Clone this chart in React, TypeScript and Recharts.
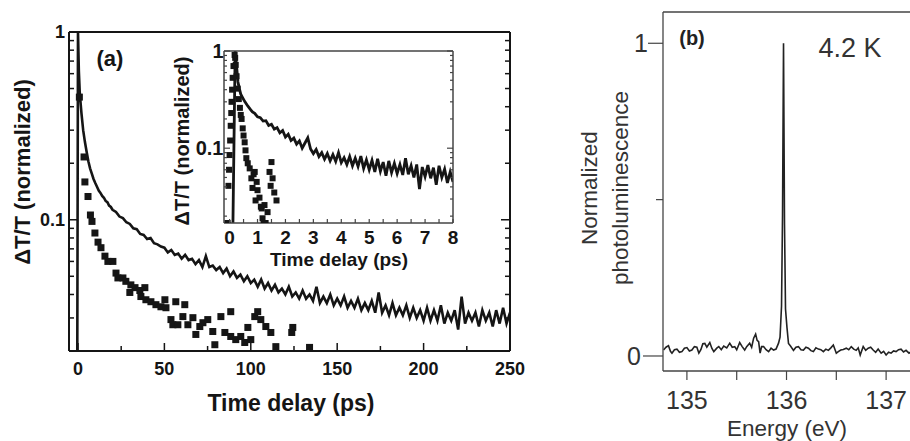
import React from 'react';
import { ComposedChart, LineChart, Line, Scatter, XAxis, YAxis } from 'recharts';

// ---- panel (a): main decay, [time ps, dT/T normalized]
const mainCurve: [number, number][] = [
  [-0.4, 0.02], [0, 1.0], [0.5, 0.62], [1, 0.48], [1.5, 0.42], [2, 0.37], [3, 0.3], [4, 0.26],
  [5, 0.23], [6, 0.205], [7, 0.188], [8, 0.176], [9, 0.165], [10, 0.157], [11, 0.15], [12, 0.143],
  [13, 0.139], [14, 0.134], [15, 0.131], [16, 0.126], [17, 0.124], [18, 0.119], [19, 0.117], [20, 0.113],
  [22, 0.11], [24, 0.104], [26, 0.102], [28, 0.097], [30, 0.095], [32, 0.09], [34, 0.089], [36, 0.084],
  [38, 0.083], [40, 0.079], [42, 0.08], [44, 0.075], [46, 0.074], [48, 0.072], [50, 0.071], [52, 0.067],
  [54, 0.069], [56, 0.065], [58, 0.066], [60, 0.062], [62, 0.065], [64, 0.061], [66, 0.062], [68, 0.058],
  [70, 0.061], [72, 0.056], [74, 0.064], [76, 0.056], [78, 0.057], [80, 0.054], [82, 0.056], [84, 0.052],
  [86, 0.055], [88, 0.05], [90, 0.053], [92, 0.049], [94, 0.051], [96, 0.047], [98, 0.05], [100, 0.046],
  [102, 0.048], [104, 0.044], [106, 0.048], [108, 0.043], [110, 0.046], [112, 0.042], [114, 0.045], [116, 0.041],
  [118, 0.043], [120, 0.04], [122, 0.044], [124, 0.039], [126, 0.041], [128, 0.038], [130, 0.042], [132, 0.038],
  [134, 0.04], [136, 0.037], [138, 0.044], [140, 0.036], [142, 0.039], [144, 0.036], [146, 0.04], [148, 0.035],
  [150, 0.038], [152, 0.035], [154, 0.039], [156, 0.034], [158, 0.037], [160, 0.034], [162, 0.038], [164, 0.033],
  [166, 0.036], [168, 0.033], [170, 0.037], [172, 0.032], [174, 0.041], [176, 0.032], [178, 0.035], [180, 0.031],
  [182, 0.036], [184, 0.031], [186, 0.034], [188, 0.031], [190, 0.035], [192, 0.03], [194, 0.034], [196, 0.03],
  [198, 0.033], [200, 0.029], [202, 0.034], [204, 0.029], [206, 0.033], [208, 0.029], [210, 0.035], [212, 0.028],
  [214, 0.032], [216, 0.029], [218, 0.033], [220, 0.026], [222, 0.039], [224, 0.028], [226, 0.032], [228, 0.029],
  [230, 0.032], [232, 0.027], [234, 0.033], [236, 0.029], [238, 0.032], [240, 0.027], [242, 0.033], [244, 0.028],
  [246, 0.034], [248, 0.028], [250, 0.032],
];

const mainSquares: [number, number][] = [
  [0.8, 0.45], [3.5, 0.216], [4, 0.159], [5.8, 0.133], [7.2, 0.106], [8.1, 0.098], [9.8, 0.085], [11.6, 0.076],
  [13.3, 0.071], [15.6, 0.064], [17.3, 0.06], [20.2, 0.06], [22, 0.052], [23.1, 0.049], [26, 0.049], [27.7, 0.047],
  [30, 0.041], [30.6, 0.045], [33, 0.0435], [35.8, 0.042], [36.4, 0.039], [38.7, 0.0435], [39.3, 0.0375], [42.2, 0.0366],
  [45.1, 0.0353], [48, 0.0344], [50.3, 0.0375], [50.9, 0.034], [53.8, 0.0294], [54.9, 0.0276], [56.6, 0.0366], [57.8, 0.0276],
  [60.7, 0.0305], [61.8, 0.0353], [63.6, 0.0276], [66.5, 0.0301], [68.2, 0.0245], [70.5, 0.027], [72.3, 0.0283], [75.1, 0.0294],
  [78, 0.0254], [79.2, 0.0216], [82.7, 0.0305], [85, 0.0251], [88.4, 0.0324], [88.4, 0.0239], [91.3, 0.023], [94.2, 0.0239],
  [96.5, 0.0222], [98.3, 0.0267], [100, 0.023], [102.3, 0.0305], [104, 0.0324], [105.8, 0.0294], [108.7, 0.027], [111.6, 0.0251],
  [114.5, 0.0211], [123.7, 0.0251], [124.3, 0.0267], [134, 0.0209],
];

// ---- inset: first 8 ps
const insetCurve: [number, number][] = [
  [0.12, 0.017], [0.2, 1.0], [0.25, 0.7], [0.3, 0.48], [0.35, 0.41], [0.4, 0.36], [0.47, 0.33], [0.55, 0.3],
  [0.65, 0.272], [0.75, 0.25], [0.82, 0.236], [0.9, 0.228], [1.0, 0.21], [1.1, 0.206], [1.2, 0.19], [1.3, 0.192],
  [1.4, 0.171], [1.5, 0.176], [1.6, 0.157], [1.7, 0.163], [1.8, 0.144], [1.9, 0.152], [2.0, 0.13], [2.1, 0.139],
  [2.2, 0.12], [2.3, 0.127], [2.4, 0.11], [2.5, 0.119], [2.6, 0.1], [2.7, 0.113], [2.8, 0.128], [2.9, 0.098],
  [3.0, 0.088], [3.1, 0.097], [3.2, 0.082], [3.3, 0.09], [3.4, 0.077], [3.5, 0.088], [3.6, 0.074], [3.7, 0.086],
  [3.8, 0.073], [3.9, 0.09], [4.0, 0.071], [4.1, 0.08], [4.2, 0.068], [4.3, 0.082], [4.4, 0.066], [4.5, 0.079],
  [4.6, 0.065], [4.7, 0.083], [4.8, 0.062], [4.9, 0.076], [5.0, 0.06], [5.1, 0.075], [5.2, 0.057], [5.3, 0.078],
  [5.4, 0.058], [5.5, 0.072], [5.6, 0.052], [5.7, 0.074], [5.8, 0.056], [5.9, 0.07], [6.0, 0.055], [6.1, 0.068],
  [6.2, 0.053], [6.3, 0.079], [6.4, 0.054], [6.5, 0.066], [6.6, 0.05], [6.7, 0.068], [6.8, 0.038], [6.9, 0.064],
  [7.0, 0.051], [7.1, 0.067], [7.2, 0.049], [7.3, 0.063], [7.4, 0.042], [7.5, 0.066], [7.6, 0.05], [7.7, 0.061],
  [7.8, 0.044], [7.9, 0.057], [8.0, 0.045],
];

const insetSquares: [number, number][] = [
  [-0.07, 0.017], [-0.04, 0.041], [-0.02, 0.06], [0, 0.085], [0.02, 0.12], [0.04, 0.17], [0.06, 0.23], [0.07, 0.3],
  [0.09, 0.4], [0.11, 0.53], [0.14, 0.7], [0.18, 0.91], [0.2, 0.85], [0.22, 0.72], [0.25, 0.55], [0.29, 0.41],
  [0.33, 0.32], [0.37, 0.26], [0.4, 0.22], [0.43, 0.2], [0.47, 0.16], [0.5, 0.135], [0.54, 0.115], [0.57, 0.095],
  [0.6, 0.079], [0.65, 0.07], [0.72, 0.062], [0.78, 0.049], [0.82, 0.039], [0.86, 0.054], [0.9, 0.057], [0.93, 0.029],
  [0.97, 0.045], [1.0, 0.037], [1.07, 0.031], [1.12, 0.025], [1.15, 0.024], [1.18, 0.019], [1.22, 0.017], [1.25, 0.026],
  [1.29, 0.017], [1.36, 0.022], [1.43, 0.057], [1.47, 0.041], [1.5, 0.072], [1.54, 0.049], [1.6, 0.035], [1.68, 0.029],
];

// ---- panel (b): PL spectrum, [energy eV, normalized PL]
const plSpectrum: [number, number][] = [
  [134.765, 0.019], [134.79, 0.028], [134.815, 0.033], [134.835, 0.015], [134.85, 0.009], [134.875, 0.02],
  [134.9, 0.022], [134.925, 0.012], [134.95, 0.014], [134.975, 0.025], [135.0, 0.027], [135.025, 0.016],
  [135.05, 0.019], [135.075, 0.03], [135.1, 0.028], [135.12, 0.009], [135.14, 0.02], [135.16, 0.039],
  [135.18, 0.04], [135.2, 0.028], [135.23, 0.043], [135.25, 0.025], [135.27, 0.014], [135.3, 0.025],
  [135.32, 0.03], [135.345, 0.02], [135.37, 0.032], [135.4, 0.026], [135.43, 0.041], [135.455, 0.028],
  [135.48, 0.03], [135.5, 0.02], [135.53, 0.043], [135.555, 0.03], [135.58, 0.019], [135.6, 0.03],
  [135.63, 0.041], [135.65, 0.028], [135.67, 0.057], [135.69, 0.07], [135.705, 0.05], [135.72, 0.046],
  [135.735, 0.009], [135.75, 0.03], [135.77, 0.03], [135.795, 0.02], [135.82, 0.014], [135.845, 0.025],
  [135.87, 0.019], [135.895, 0.022], [135.92, 0.041], [135.935, 0.06], [135.95, 0.16], [135.96, 0.45],
  [135.97, 1.0], [135.98, 0.42], [135.99, 0.15], [136.005, 0.09], [136.02, 0.04], [136.04, 0.032],
  [136.07, 0.018], [136.095, 0.028], [136.12, 0.03], [136.145, 0.02], [136.17, 0.019], [136.195, 0.028],
  [136.22, 0.025], [136.245, 0.017], [136.27, 0.014], [136.295, 0.026], [136.32, 0.022], [136.345, 0.02],
  [136.37, 0.014], [136.395, 0.022], [136.42, 0.018], [136.445, 0.026], [136.47, 0.035], [136.5, 0.009],
  [136.52, 0.014], [136.545, 0.019], [136.57, 0.021], [136.6, 0.025], [136.625, 0.02], [136.65, 0.03],
  [136.675, 0.022], [136.7, 0.018], [136.72, 0.026], [136.74, 0.003], [136.77, 0.03], [136.795, 0.018],
  [136.82, 0.025], [136.845, 0.028], [136.87, 0.019], [136.895, 0.012], [136.92, 0.022], [136.95, 0.009],
  [136.975, 0.015], [137.0, 0.003], [137.025, 0.012], [137.05, 0.009], [137.075, 0.016], [137.1, 0.014],
  [137.125, 0.02], [137.15, 0.022], [137.175, 0.013], [137.2, 0.018], [137.23, 0.009], [137.26, 0.016],
  [137.29, 0.012],
];

const mainXTicks = [0, 25, 50, 75, 100, 125, 150, 175, 200, 225, 250];
const insetXTicks = [0, 0.5, 1, 1.5, 2, 2.5, 3, 3.5, 4, 4.5, 5, 5.5, 6, 6.5, 7, 7.5, 8];
const logTicks = [0.02, 0.03, 0.04, 0.05, 0.06, 0.07, 0.08, 0.09, 0.1, 0.2, 0.3, 0.4, 0.5, 0.6, 0.7, 0.8, 0.9, 1];
const plXTicks = [135, 135.5, 136, 136.5, 137];
const plYTicks = [0, 0.5, 1];

const toTV = (rows: [number, number][]) => rows.map(([t, v]) => ({ t, v }));

const INK = '#151515';
const GREY = '#444';
const FONT = '"Liberation Sans", Arial, sans-serif';

const isDecade = (v: number) => Math.abs(Math.log10(v) - Math.round(Math.log10(v))) < 1e-6;

const squareShape = (size: number) => (props: any) => {
  const { cx, cy } = props;
  if (cx == null || cy == null) return <g />;
  return <rect x={cx - size / 2} y={cy - size / 2} width={size} height={size} fill={INK} />;
};

// tick renderers: inward tick marks, labels only on majors
const mainBottomTick = (p: any) => {
  const v = p.payload.value;
  const major = v % 50 === 0;
  return (
    <g>
      <line x1={p.x} x2={p.x} y1={p.y} y2={p.y - (major ? 8 : 5)} stroke={INK} strokeWidth={1.5} />
      {major && (
        <text x={p.x} y={p.y + 23.5} textAnchor="middle" fontFamily={FONT} fontWeight="bold" fontSize={18} fill={INK}>
          {v}
        </text>
      )}
    </g>
  );
};
const mainTopTick = (p: any) => {
  const major = p.payload.value % 50 === 0;
  return <line x1={p.x} x2={p.x} y1={p.y} y2={p.y + (major ? 8 : 5)} stroke={INK} strokeWidth={1.5} />;
};
const mainLeftTick = (p: any) => {
  const v = p.payload.value;
  const major = isDecade(v);
  return (
    <g>
      <line x1={p.x} x2={p.x + (major ? 9 : 5)} y1={p.y} y2={p.y} stroke={INK} strokeWidth={1.5} />
      {major && (
        <text x={p.x - 4} y={p.y} dy="0.36em" textAnchor="end" fontFamily={FONT} fontWeight="bold" fontSize={18} fill={INK}>
          {v === 1 ? '1' : '0.1'}
        </text>
      )}
    </g>
  );
};
const mainRightTick = (p: any) => {
  const major = isDecade(p.payload.value);
  return <line x1={p.x} x2={p.x - (major ? 9 : 5)} y1={p.y} y2={p.y} stroke={INK} strokeWidth={1.5} />;
};

const insetBottomTick = (p: any) => {
  const v = p.payload.value;
  const major = Number.isInteger(v);
  return (
    <g>
      <line x1={p.x} x2={p.x} y1={p.y} y2={p.y - 4} stroke={GREY} strokeWidth={1.2} />
      {major && (
        <text x={p.x} y={p.y + 21} textAnchor="middle" fontFamily={FONT} fontWeight="bold" fontSize={19} fill={INK}>
          {v}
        </text>
      )}
    </g>
  );
};
const insetTopTick = (p: any) => (
  <line x1={p.x} x2={p.x} y1={p.y} y2={p.y + 4} stroke={GREY} strokeWidth={1.2} />
);
const insetLeftTick = (p: any) => {
  const v = p.payload.value;
  const major = isDecade(v);
  return (
    <g>
      <line x1={p.x} x2={p.x + (major ? 6 : 3)} y1={p.y} y2={p.y} stroke={GREY} strokeWidth={1.2} />
      {major && (
        <text x={p.x - 0.5} y={p.y} dy="0.36em" textAnchor="end" fontFamily={FONT} fontWeight="bold" fontSize={20} fill={INK}>
          {v === 1 ? '1' : '0.1'}
        </text>
      )}
    </g>
  );
};
const insetRightTick = (p: any) => {
  const major = isDecade(p.payload.value);
  return <line x1={p.x} x2={p.x - (major ? 6 : 3)} y1={p.y} y2={p.y} stroke={GREY} strokeWidth={1.2} />;
};

const plBottomTick = (p: any) => {
  const v = p.payload.value;
  const major = Number.isInteger(v);
  return (
    <g>
      <line x1={p.x} x2={p.x} y1={p.y} y2={p.y + 9} stroke={GREY} strokeWidth={1.2} />
      {major && (
        <text x={p.x} y={p.y + 38} textAnchor="middle" fontFamily={FONT} fontSize={25} fill="#333">
          {v}
        </text>
      )}
    </g>
  );
};
const plLeftTick = (p: any) => {
  const v = p.payload.value;
  const len = v === 0 ? 20 : v === 1 ? 15 : 7;
  return (
    <g>
      <line x1={p.x - len} x2={p.x} y1={p.y} y2={p.y} stroke={GREY} strokeWidth={1.2} />
      {v !== 0.5 && (
        <text x={v === 0 ? 634 : 641} y={p.y} dy="0.36em" textAnchor="middle" fontFamily={FONT} fontSize={25} fill="#333">
          {v}
        </text>
      )}
    </g>
  );
};

const layer: React.CSSProperties = { position: 'absolute', left: 0, top: 0 };

const App: React.FC = () => {
  const mainLine = toTV(mainCurve);
  const mainDots = toTV(mainSquares);
  const insetLine = toTV(insetCurve);
  const insetDots = toTV(insetSquares);
  const plData = plSpectrum.map(([e, p]) => ({ e, p }));

  const axis = { tickSize: 0, tickMargin: 0, tickLine: false, interval: 0 as const };

  return (
    <div style={{ position: 'absolute', left: 0, top: 0, width: 910, height: 441, overflow: 'hidden', background: '#fff' }}>
      {/* (a) main */}
      <div style={layer}>
        <ComposedChart width={530} height={441} margin={{ top: 31, right: 19, bottom: 0, left: 0 }}>
          <XAxis xAxisId="b" dataKey="t" type="number" domain={[-5.2, 250]} allowDataOverflow ticks={mainXTicks}
            height={90} axisLine={{ stroke: INK, strokeWidth: 2 }} tick={mainBottomTick} {...axis} />
          <XAxis xAxisId="t" orientation="top" type="number" domain={[-5.2, 250]} allowDataOverflow ticks={mainXTicks}
            height={1} axisLine={{ stroke: INK, strokeWidth: 2 }} tick={mainTopTick} {...axis} />
          <YAxis yAxisId="l" dataKey="v" type="number" scale="log" domain={[0.02, 1]} allowDataOverflow ticks={logTicks}
            width={69} axisLine={{ stroke: INK, strokeWidth: 2 }} tick={mainLeftTick} {...axis} />
          <YAxis yAxisId="r" orientation="right" type="number" scale="log" domain={[0.02, 1]} allowDataOverflow ticks={logTicks}
            width={1} axisLine={{ stroke: INK, strokeWidth: 2 }} tick={mainRightTick} {...axis} />
          <Line xAxisId="b" yAxisId="l" data={mainLine} dataKey="v" type="linear" dot={false} stroke={INK}
            strokeWidth={2.6} isAnimationActive={false} />
          <Scatter xAxisId="b" yAxisId="l" data={mainDots} dataKey="v" shape={squareShape(7)} isAnimationActive={false} />
        </ComposedChart>
      </div>

      {/* (a) inset */}
      <div style={layer}>
        <ComposedChart width={463} height={300} margin={{ top: 50, right: 9, bottom: 0, left: 0 }}>
          <XAxis xAxisId="b" dataKey="t" type="number" domain={[-0.2, 8]} allowDataOverflow ticks={insetXTicks}
            height={77} axisLine={{ stroke: GREY, strokeWidth: 1.5 }} tick={insetBottomTick} {...axis} />
          <XAxis xAxisId="t" orientation="top" type="number" domain={[-0.2, 8]} allowDataOverflow ticks={insetXTicks}
            height={1} axisLine={{ stroke: GREY, strokeWidth: 1.5 }} tick={insetTopTick} {...axis} />
          <YAxis yAxisId="l" dataKey="v" type="number" scale="log" domain={[0.017, 1]} allowDataOverflow ticks={logTicks}
            width={224} axisLine={{ stroke: GREY, strokeWidth: 1.5 }} tick={insetLeftTick} {...axis} />
          <YAxis yAxisId="r" orientation="right" type="number" scale="log" domain={[0.017, 1]} allowDataOverflow ticks={logTicks}
            width={1} axisLine={{ stroke: GREY, strokeWidth: 1.5 }} tick={insetRightTick} {...axis} />
          <Line xAxisId="b" yAxisId="l" data={insetLine} dataKey="v" type="linear" dot={false} stroke={INK}
            strokeWidth={2.8} isAnimationActive={false} />
          <Scatter xAxisId="b" yAxisId="l" data={insetDots} dataKey="v" shape={squareShape(6)} isAnimationActive={false} />
        </ComposedChart>
      </div>

      {/* (b) */}
      <div style={layer}>
        <LineChart width={920} height={441} margin={{ top: 11, right: 5, bottom: 0, left: 583 }}>
          <XAxis xAxisId="b" dataKey="e" type="number" domain={[134.76, 137.29]} allowDataOverflow ticks={plXTicks}
            height={70} axisLine={{ stroke: GREY, strokeWidth: 1.3 }} tick={plBottomTick} {...axis} />
          <XAxis xAxisId="t" orientation="top" type="number" domain={[134.76, 137.29]} allowDataOverflow ticks={plXTicks}
            height={1} axisLine={{ stroke: GREY, strokeWidth: 1.3 }} tick={() => <g />} {...axis} />
          <YAxis yAxisId="l" type="number" domain={[-0.048, 1.1]} allowDataOverflow ticks={plYTicks}
            width={80} axisLine={{ stroke: GREY, strokeWidth: 1.3 }} tick={plLeftTick} {...axis} />
          <Line xAxisId="b" yAxisId="l" data={plData} dataKey="p" type="linear" dot={false} stroke="#222"
            strokeWidth={1.6} isAnimationActive={false} />
        </LineChart>
      </div>

      {/* titles and annotations */}
      <svg width={910} height={441} style={{ ...layer, pointerEvents: 'none' }}>
        <g fontFamily={FONT} fill={INK} fontWeight="bold" textAnchor="middle" dominantBaseline="central">
          <text x={110} y={58} fontSize={22}>(a)</text>
          <text x={22} y={172} fontSize={22} transform="rotate(-90, 22, 172)">ΔT/T (normalized)</text>
          <text x={291} y={403} fontSize={23}>Time delay (ps)</text>
          <text x={182} y={141} fontSize={20} transform="rotate(-90, 182, 141)">ΔT/T (normalized)</text>
          <text x={339} y={259} fontSize={19}>Time delay (ps)</text>
          <text x={692} y={38} fontSize={20} fill="#222">(b)</text>
        </g>
        <g fontFamily={FONT} fill="#333" textAnchor="middle" dominantBaseline="central">
          <text x={850} y={48} fontSize={27}>4.2 K</text>
          <text x={787} y={428} fontSize={22.5}>Energy (eV)</text>
          <text x={589} y={188} fontSize={22.5} transform="rotate(-90, 589, 188)">Normalized</text>
          <text x={620} y={188} fontSize={22.5} transform="rotate(-90, 620, 188)">photoluminescence</text>
        </g>
      </svg>
    </div>
  );
};

export default App;
